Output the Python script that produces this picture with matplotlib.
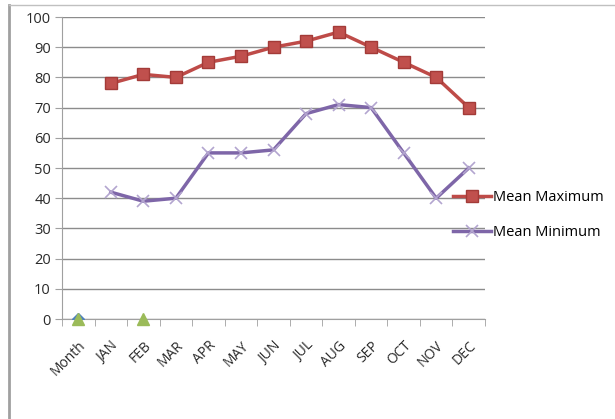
import matplotlib.pyplot as plt
import numpy as np
from matplotlib.lines import Line2D

# Data
categories = ['Month', 'JAN', 'FEB', 'MAR', 'APR', 'MAY', 'JUN',
              'JUL', 'AUG', 'SEP', 'OCT', 'NOV', 'DEC']
mean_max = [np.nan, 78, 81, 80, 85, 87, 90, 92, 95, 90, 85, 80, 70]
mean_min = [np.nan, 42, 39, 40, 55, 55, 56, 68, 71, 70, 55, 40, 50]
blue_series = [0, np.nan, np.nan, np.nan, np.nan, np.nan, np.nan,
               np.nan, np.nan, np.nan, np.nan, np.nan, np.nan]
green_series = [0, np.nan, 0, np.nan, np.nan, np.nan, np.nan,
                np.nan, np.nan, np.nan, np.nan, np.nan, np.nan]

plt.rcParams['font.family'] = ['Open Sans', 'DejaVu Sans']

fig = plt.figure(figsize=(6.15, 4.19), dpi=100)
ax = fig.add_axes([62 / 615, 1 - 319 / 419, 423 / 615, 302 / 419])

x = np.arange(len(categories))

ax.plot(x, blue_series, linestyle='none', marker='D', markersize=6,
        color='#4F81BD', zorder=3)
ax.plot(x, green_series, linestyle='none', marker='^', markersize=8,
        color='#9BBB59', zorder=4, clip_on=False)
ax.plot(x, mean_max, '-', color='#BE4B48', linewidth=2.5, marker='s',
        markersize=9, markerfacecolor='#C0504D', markeredgecolor='#A33B38',
        label='Mean Maximum', zorder=5)
ax.plot(x, mean_min, '-', color='#7E66A8', linewidth=2.5, marker='x',
        markersize=9, markeredgecolor='#B3A5CF', markeredgewidth=1.2,
        label='Mean Minimum', zorder=5)

ax.set_xlim(-0.5, len(categories) - 0.5)
ax.set_ylim(0, 100)
ax.set_yticks(np.arange(0, 101, 10))
ax.yaxis.grid(True, color='#8c8c8c', linewidth=1)
ax.set_axisbelow(True)

for side in ['top', 'right']:
    ax.spines[side].set_visible(False)
ax.spines['left'].set_color('#a0a0a0')
ax.spines['bottom'].set_color('#a0a0a0')

ax.set_xticks(x)
ax.set_xticklabels(categories, rotation=45, ha='right', rotation_mode='anchor',
                   fontsize=10, color='#2a2a2a')
ax.set_xticks(np.arange(-0.5, len(categories), 1), minor=True)
ax.tick_params(axis='x', which='major', length=0, pad=14)
ax.tick_params(axis='x', which='minor', length=5, color='#a0a0a0')
ax.tick_params(axis='y', length=5, color='#a0a0a0', labelsize=10.5,
               labelcolor='#2a2a2a', pad=3)

fig.legend(loc='upper left', bbox_to_anchor=(453 / 615, 1 - 190 / 419),
           frameon=False, fontsize=10.5, labelspacing=1.35, handlelength=2.6,
           handletextpad=0.15, borderaxespad=0, borderpad=0)

# chart frame lines
fig.add_artist(Line2D([9 / 615, 9 / 615], [0, 1 - 5 / 419],
                      transform=fig.transFigure, color='#a0a0a0', linewidth=2))
fig.add_artist(Line2D([9 / 615, 1], [1 - 5 / 419, 1 - 5 / 419],
                      transform=fig.transFigure, color='#c0c0c0', linewidth=1))

fig.savefig('out.png', dpi=100)
